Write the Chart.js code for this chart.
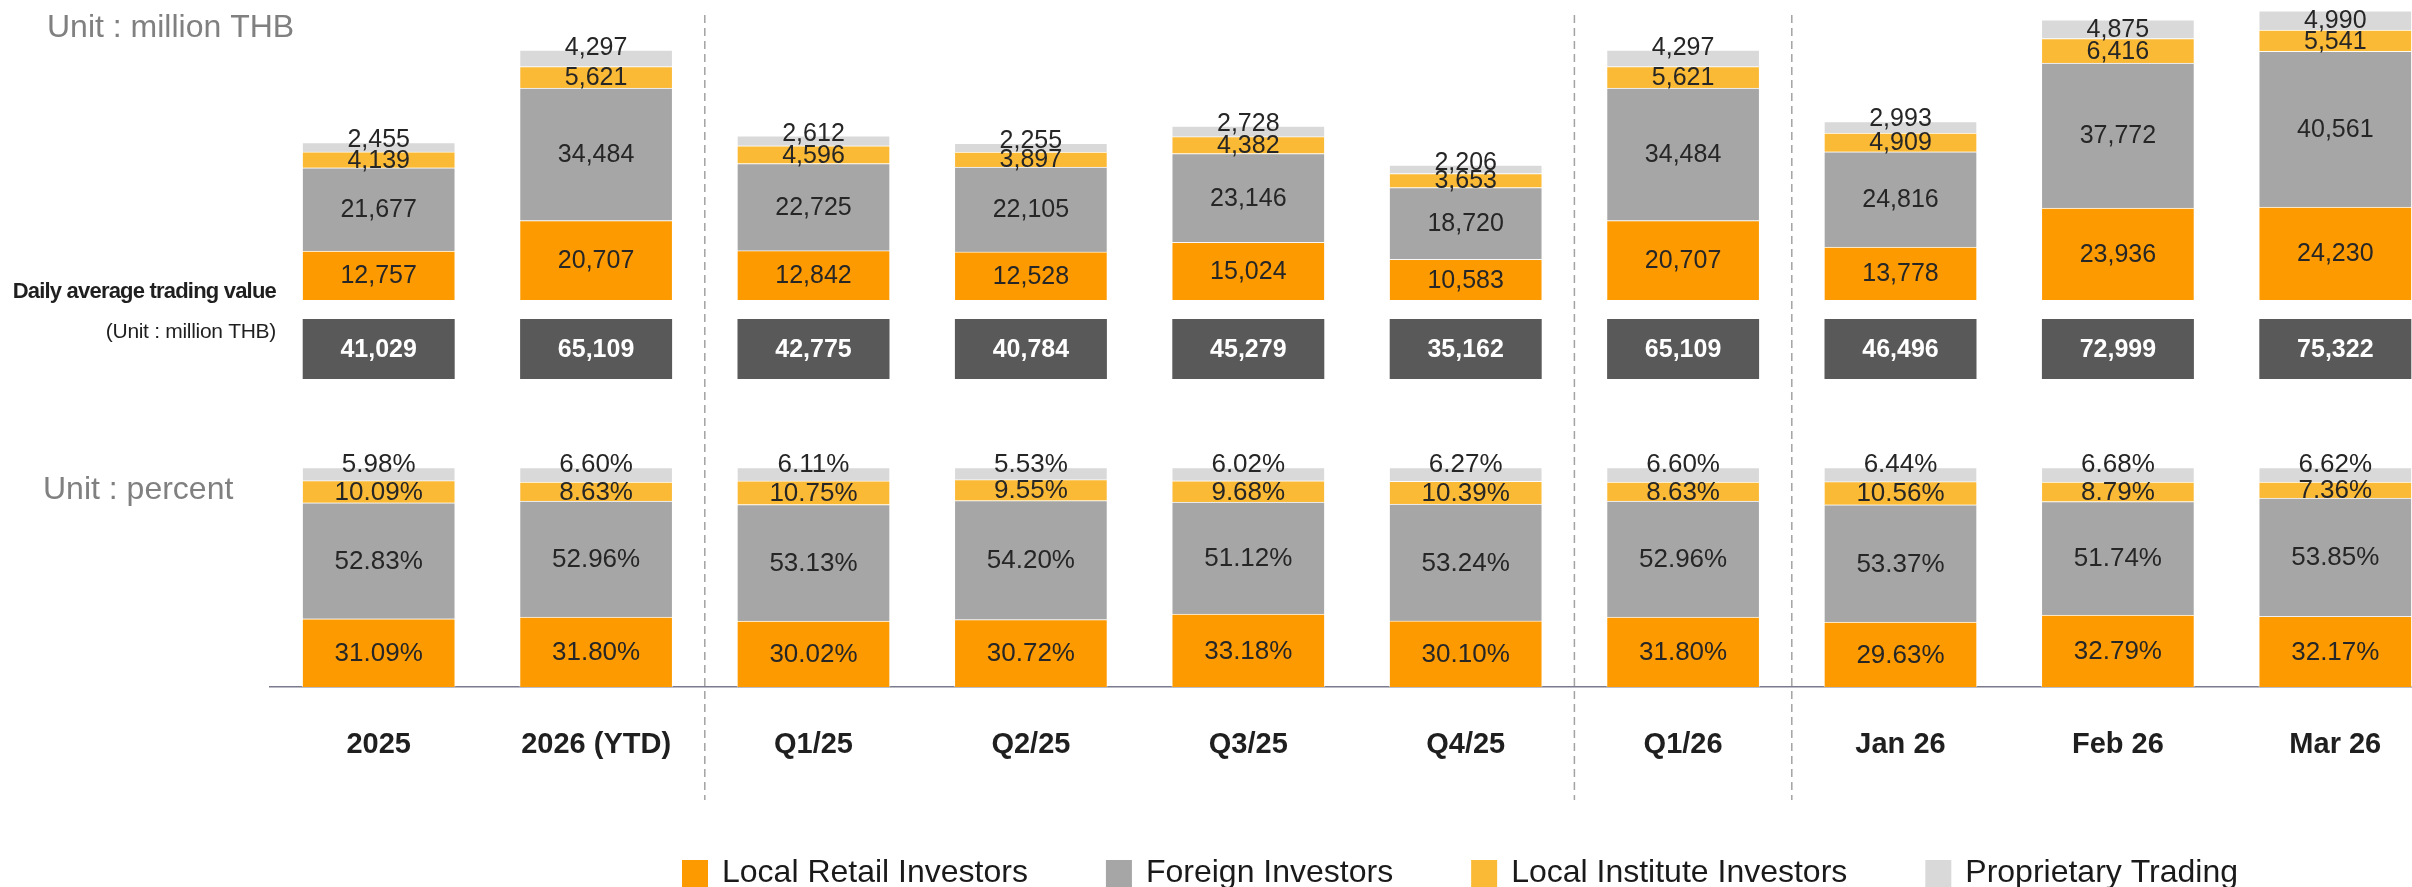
<!DOCTYPE html>
<html><head><meta charset="utf-8">
<script src="https://cdn.jsdelivr.net/npm/chart.js@4.4.1/dist/chart.umd.min.js"></script>
<style>
html,body{margin:0;padding:0;background:#fff;overflow:hidden;width:2412px;height:887px}
#wrap{position:absolute;left:0;top:0;width:2450px;height:887px}
canvas{display:block}
</style></head>
<body><div id="wrap"><canvas id="c" width="2450" height="887" style="width:2450px;height:887px"></canvas></div>
<script>
const categories = ['2025','2026 (YTD)','Q1/25','Q2/25','Q3/25','Q4/25','Q1/26','Jan 26','Feb 26','Mar 26'];
const seriesNames = ['Local Retail Investors','Foreign Investors','Local Institute Investors','Proprietary Trading'];
const retailValue    = [12757,20707,12842,12528,15024,10583,20707,13778,23936,24230];
const foreignValue   = [21677,34484,22725,22105,23146,18720,34484,24816,37772,40561];
const instituteValue = [4139,5621,4596,3897,4382,3653,5621,4909,6416,5541];
const propValue      = [2455,4297,2612,2255,2728,2206,4297,2993,4875,4990];
const dailyAverage   = [41029,65109,42775,40784,45279,35162,65109,46496,72999,75322];
const retailPct    = [31.09,31.80,30.02,30.72,33.18,30.10,31.80,29.63,32.79,32.17];
const foreignPct   = [52.83,52.96,53.13,54.20,51.12,53.24,52.96,53.37,51.74,53.85];
const institutePct = [10.09,8.63,10.75,9.55,9.68,10.39,8.63,10.56,8.79,7.36];
const propPct      = [5.98,6.60,6.11,5.53,6.02,6.27,6.60,6.44,6.68,6.62];
const separatorsAfter = [1,5,6];

const FONT = "'Liberation Sans', Arial, Helvetica, sans-serif";
const colors = ['#FC9A00','#A6A6A6','#FBBA36','#D9D9D9'];
const valueSeries = [retailValue, foreignValue, instituteValue, propValue];
const pctSeries = [retailPct, foreignPct, institutePct, propPct];

const datasets = [];
valueSeries.forEach((d,i)=>datasets.push({label:seriesNames[i], data:d, backgroundColor:colors[i],
  borderColor:'rgba(255,255,255,0.55)', borderWidth:1, yAxisID:'y', stack:'s', kind:'value', series:i, barThickness:153}));
pctSeries.forEach((d,i)=>datasets.push({label:seriesNames[i], data:d, backgroundColor:colors[i],
  borderColor:'rgba(255,255,255,0.55)', borderWidth:1, yAxisID:'yp', stack:'s', kind:'pct', series:i, barThickness:153}));

const labelsPlugin = {
  id:'labelsPlugin',
  afterDatasetsDraw(chart){
    const ctx = chart.ctx;
    const xs = chart.scales.x;
    ctx.save();
    ctx.textAlign='center'; ctx.textBaseline='middle';
    // segment labels
    chart.data.datasets.forEach((ds,di)=>{
      const meta = chart.getDatasetMeta(di);
      ctx.font = (ds.kind==='pct' ? '26px ' : '25px ') + FONT;
      ctx.fillStyle = '#262626';
      meta.data.forEach((el,i)=>{
        const v = ds.data[i];
        const top = Math.min(el.y, el.base), bot = Math.max(el.y, el.base);
        let y = (top+bot)/2;
        if (ds.series===3){
          if (ds.kind==='pct') y = top-4;
          else if (bot-top < 18) y = top-3;
        }
        const txt = ds.kind==='pct' ? v.toFixed(2)+'%' : v.toLocaleString('en-US');
        ctx.fillText(txt, el.x, y+1);
      });
    });
    // daily average boxes
    ctx.font = 'bold 25px ' + FONT;
    dailyAverage.forEach((v,i)=>{
      const x = xs.getPixelForValue(i);
      ctx.fillStyle = '#595959';
      ctx.fillRect(x-76, 319, 152, 60);
      ctx.fillStyle = '#ffffff';
      ctx.fillText(v.toLocaleString('en-US'), x, 350);
    });
    // dashed separators
    ctx.strokeStyle = '#a3a3a3';
    ctx.lineWidth = 1.5;
    ctx.setLineDash([8,5]);
    separatorsAfter.forEach(s=>{
      const x = (xs.getPixelForValue(s) + xs.getPixelForValue(s+1))/2;
      ctx.beginPath(); ctx.moveTo(x,15); ctx.lineTo(x,800); ctx.stroke();
    });
    ctx.restore();
  },
  afterDraw(chart){
    const ctx = chart.ctx;
    ctx.save();
    ctx.textBaseline='alphabetic';
    ctx.fillStyle='#808080';
    ctx.font='32px '+FONT;
    ctx.textAlign='left';
    ctx.fillText('Unit : million THB', 47, 37);
    ctx.fillText('Unit : percent', 43, 499);
    ctx.fillStyle='#1f1f1f';
    ctx.textAlign='right';
    ctx.font='bold 22px '+FONT;
    try { ctx.letterSpacing='-0.8px'; } catch(e){}
    ctx.fillText('Daily average trading value', 276, 298);
    try { ctx.letterSpacing='-0.3px'; } catch(e){}
    ctx.font='21px '+FONT;
    ctx.fillText('(Unit : million THB)', 276, 338);
    try { ctx.letterSpacing='0px'; } catch(e){}
    // legend
    ctx.textAlign='left';
    ctx.font='32px '+FONT;
    let x = 682;
    seriesNames.forEach((name,i)=>{
      ctx.fillStyle = colors[i];
      ctx.fillRect(x, 860, 26, 27);
      ctx.fillStyle = '#1a1a1a';
      ctx.fillText(name, x+40, 882);
      x += 40 + ctx.measureText(name).width + 78;
    });
    ctx.restore();
  }
};

Chart.defaults.font.family = FONT;
new Chart(document.getElementById('c'), {
  type:'bar',
  data:{labels:categories, datasets},
  options:{
    responsive:false, animation:false, devicePixelRatio:1,
    layout:{padding:{left:270, right:6, top:0, bottom:0}},
    plugins:{legend:{display:false}, tooltip:{enabled:false}, title:{display:false}},
    scales:{
      x:{type:'category', stacked:true, offset:true,
         grid:{display:false},
         border:{display:true, color:'#7b7b8d', width:1.5},
         ticks:{font:{size:29, weight:'bold', family:FONT}, color:'#1f1f1f', padding:33, maxRotation:0, autoSkip:false},
         afterFit(s){ s.height = 200; }},
      y:{display:false, stacked:true, min:-100807, max:78146},
      yp:{display:false, stacked:true, min:0, max:313}
    }
  },
  plugins:[labelsPlugin]
});
</script>
</body></html>
